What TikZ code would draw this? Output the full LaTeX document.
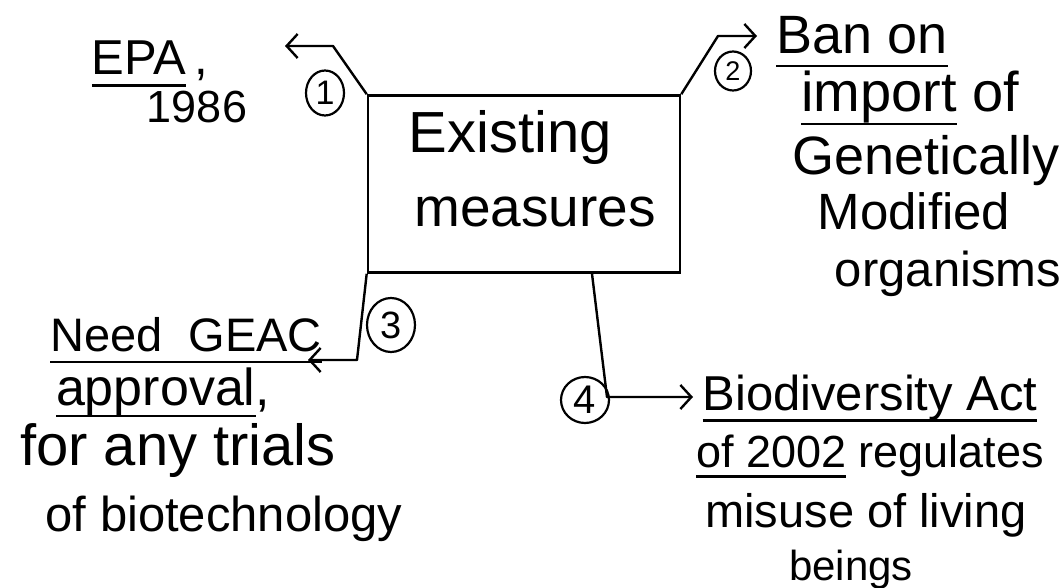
\documentclass[tikz,border=0pt]{standalone}
\usepackage{fontspec}
\setmainfont{Liberation Sans}
\usetikzlibrary{arrows.meta,calc,shapes.geometric}
\newcommand\myul[1]{\setbox0=\hbox{#1}\leavevmode\rlap{\rule[-0.24em]{\wd0}{2.4pt}}\box0\relax}
\tikzset{
  lbl/.style={inner sep=0pt, anchor=base, font=\fontsize{#1pt}{#1pt}\selectfont},
  conn/.style={line width=2.4pt, line join=round, -{Straight Barb[length=11pt,width=24pt,line width=2.4pt]}},
  circ/.style={draw, ellipse, line width=2.2pt, inner sep=0pt},
  mainbox/.style={draw, line width=2.6pt, minimum width=312pt, minimum height=177pt, inner sep=0pt}
}
\begin{document}
\begin{tikzpicture}[x=1pt,y=-1pt]
\useasboundingbox[fill=white] (0,0) rectangle (1061,588);
% central box
\node[mainbox] (box) at (524,184) {};
\node[lbl=58] (ex1) at (510,153) {Existing};
\node[lbl=55] (ex2) at (535,227) {measures};
% free ends
\coordinate (e1) at (285,46);
\coordinate (e2) at (757,36);
\coordinate (e3) at (308,360);
\coordinate (e4) at (693,397);
% connectors
\draw[conn] (box.north west) -- (333,46) -- (e1);
\draw[conn] (box.north east) -- (718,36) -- (e2);
\draw[conn] (box.south west) -- (357,360) -- (e3);
\draw[conn] ([xshift=68pt]box.south) -- (607,397) -- (e4);
% numbers
\node[circ, minimum width=38pt, minimum height=45pt, font=\fontsize{34pt}{34pt}\selectfont] (c1) at (325,93) {1};
\node[circ, minimum width=36pt, minimum height=39pt, font=\fontsize{27pt}{27pt}\selectfont] (c2) at (733,71) {2};
\node[circ, minimum width=48pt, minimum height=54pt, font=\fontsize{38pt}{38pt}\selectfont] (c3) at (391,325) {3};
\node[circ, minimum width=48pt, minimum height=46pt, font=\fontsize{40pt}{40pt}\selectfont] (c4) at (585,400) {4};
% labels
\node[lbl=49] (epa) at (150,75) {\myul{EPA}\,,};
\node[lbl=45] (yr) at (197,123) {1986};
\node[lbl=54] (ban1) at (862,54) {\myul{Ban on}};
\node[lbl=56] (ban2) at (910,112) {\myul{import} of};
\node[lbl=54] (ban3) at (926,175) {Genetically};
\node[lbl=51] (ban4) at (914,230) {Modified};
\node[lbl=49] (ban5) at (948,287) {organisms};
\node[lbl=47] (gea1) at (186,352) {\myul{Need\ \ GEAC}};
\node[lbl=52] (gea2) at (163,405) {\myul{approval},};
\node[lbl=58] (gea3) at (178,465) {for any trials};
\node[lbl=49] (gea4) at (224,531) {of biotechnology};
\node[lbl=49] (bio1) at (870,410) {\myul{Biodiversity Act}};
\node[lbl=45] (bio2) at (870,467) {\myul{of 2002} regulates};
\node[lbl=47] (bio3) at (866,527) {misuse of living};
\node[lbl=42] (bio4) at (851,580) {beings};
\end{tikzpicture}
\end{document}
